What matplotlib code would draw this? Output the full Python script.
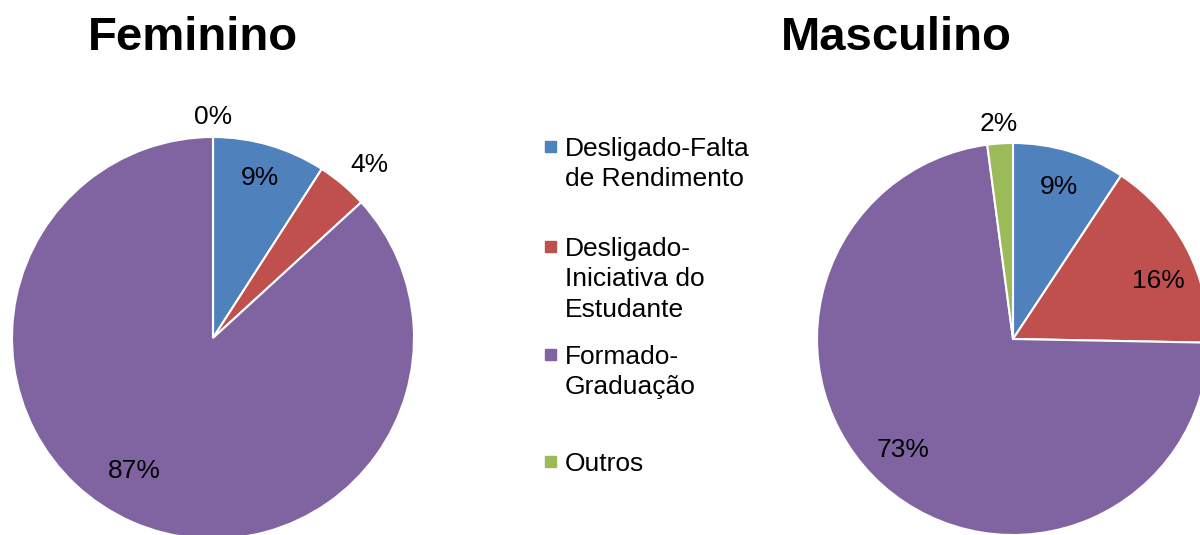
import numpy as np
import matplotlib.pyplot as plt

plt.rcParams['font.family'] = ['Liberation Sans', 'DejaVu Sans']

categories = ["Desligado-Falta\nde Rendimento", "Desligado-\nIniciativa do\nEstudante",
              "Formado-\nGraduação", "Outros"]
colors = ["#4F81BD", "#C0504D", "#8064A2", "#9BBB59"]

fem_values = [9.1, 4.1, 86.8, 0.0]
fem_labels = ["9%", "4%", "87%", "0%"]
masc_values = [9.3, 16.0, 72.6, 2.1]
masc_labels = ["9%", "16%", "73%", "2%"]

W, H = 1200, 535


def pie_axes(fig, cx, cy, r):
    # square axes in pixel coords (y from top), radius r
    return fig.add_axes([(cx - r) / W, (H - cy - r) / H, 2 * r / W, 2 * r / H])


def draw_pie(ax, values, labels, dists, shifts):
    wedges, _ = ax.pie(values, colors=colors, startangle=90, counterclock=False,
                       radius=1, wedgeprops=dict(edgecolor="white", linewidth=1.5))
    for w, lab, d, s in zip(wedges, labels, dists, shifts):
        ang = np.deg2rad((w.theta1 + w.theta2) / 2 - s)
        ax.text(d * np.cos(ang), d * np.sin(ang), lab, ha="center", va="center",
                fontsize=19, color="black")
    ax.set_xlim(-1, 1)
    ax.set_ylim(-1, 1)
    ax.axis("off")


fig = plt.figure(figsize=(W / 100, H / 100), dpi=100)

ax1 = pie_axes(fig, 213, 338, 201)
draw_pie(ax1, fem_values, fem_labels, [0.83, 1.16, 0.77, 1.1], [0, 2, 7, 0])

ax2 = pie_axes(fig, 1013, 339, 196)
draw_pie(ax2, masc_values, masc_labels, [0.81, 0.80, 0.80, 1.1], [0, 6, 3, 0])

fig.text(193 / W, 1 - 38 / H, "Feminino", ha="center", va="center",
         fontsize=34, fontweight="bold")
fig.text(896 / W, 1 - 38 / H, "Masculino", ha="center", va="center",
         fontsize=34, fontweight="bold")

# legend
leg_tops = [147, 247, 355, 462]
for cat, col, top in zip(categories, colors, leg_tops):
    fig.patches.append(plt.Rectangle((545 / W, 1 - (top + 5) / H), 11 / W, 11 / H,
                                     transform=fig.transFigure, color=col))
    fig.text(565 / W, 1 - (top - 10) / H, cat, ha="left", va="top",
             fontsize=19, linespacing=1.33)

fig.savefig("out.png", dpi=100)
